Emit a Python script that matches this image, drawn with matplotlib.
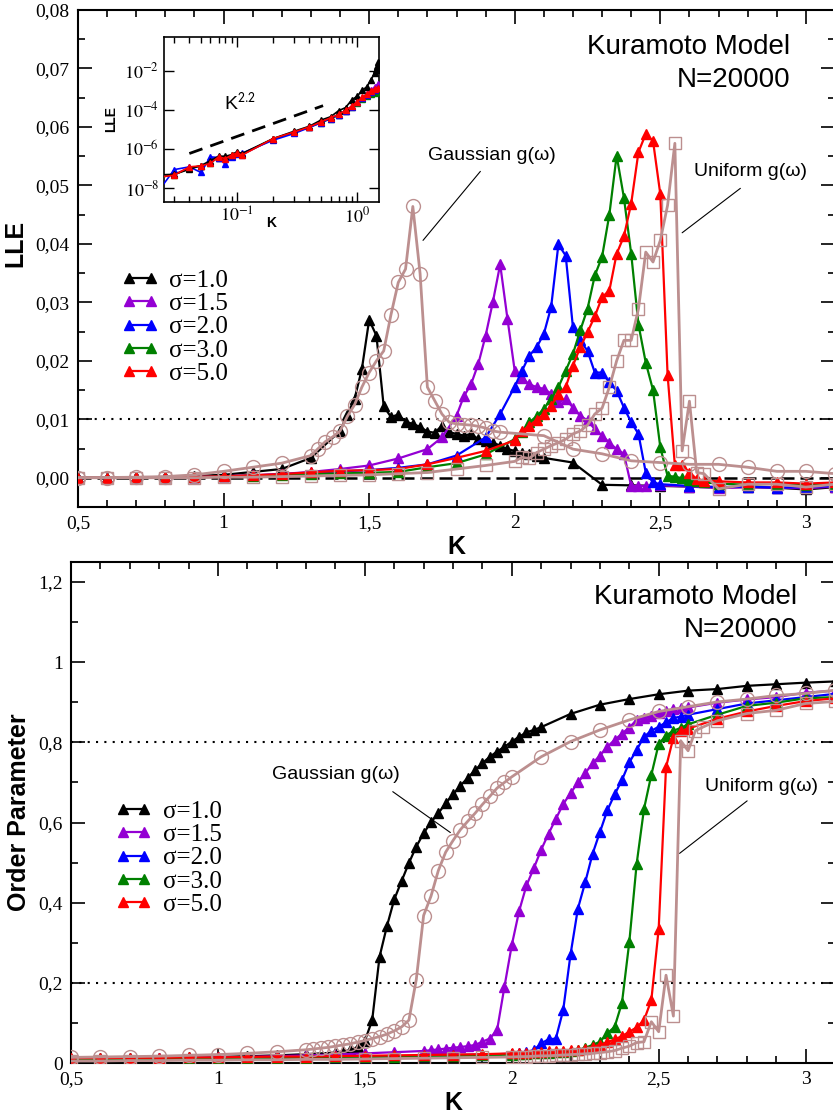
import numpy as np
import matplotlib
matplotlib.use('Agg')
import matplotlib.pyplot as plt
from matplotlib.ticker import MultipleLocator, FuncFormatter, FixedLocator, NullLocator, NullFormatter

plt.rcParams['font.family'] = 'serif'
plt.rcParams['font.serif'] = ['Liberation Serif', 'DejaVu Serif']
plt.rcParams['mathtext.fontset'] = 'stix'

SANS = ['Liberation Sans', 'DejaVu Sans']


def kgrid(*parts):
    out = []
    for a, b, step in parts:
        n = int(round((b - a) / step)) + 1
        out.append(np.linspace(a, b, n))
    return np.round(np.concatenate(out), 3)


labels = [r'σ=1.0', r'σ=1.5', r'σ=2.0', r'σ=3.0', r'σ=5.0']
colors = ['black', '#9400d3', '#0000ff', '#008000', '#ff0000']
pink = '#bc8f8f'

# ---------------- largest Lyapunov exponent ----------------
k_lle_s10 = kgrid((0.5, 1.4, 0.1), (1.425, 2.1, 0.025), (2.2, 3.1, 0.1))
lle_s10 = [3e-5, 4.4e-5, 9e-5, 1.3e-4, 3.2e-4, 5e-4, 1.0e-3, 1.5e-3, 3.4e-3, 0.0080,
           0.0108, 0.0135, 0.0186, 0.0270, 0.0243, 0.0122, 0.0104, 0.0108, 0.0096, 0.0092,
           0.0087, 0.0079, 0.0077, 0.0089, 0.0078, 0.0075, 0.0072, 0.0075, 0.0066, 0.0063,
           0.0060, 0.0055, 0.0049, 0.0046, 0.0043, 0.0041, 0.0038, 0.0034,
           0.0026, -0.0012, -0.0013, -0.0014, -0.0015, -0.0016, -0.0016, -0.0017, -0.0020, -0.0016]

k_lle_s15 = kgrid((0.5, 1.6, 0.1), (1.7, 1.8, 0.05), (1.825, 2.45, 0.025), (2.5, 3.1, 0.1))
lle_s15 = [2.3e-5, 3.8e-5, 5.6e-5, 9.2e-5, 1.5e-4, 2.5e-4, 4.2e-4, 6.5e-4, 1.0e-3, 1.5e-3, 2.1e-3, 3.3e-3,
           0.0049, 0.0069, 0.0106,
           0.0139, 0.0160, 0.0195, 0.0243, 0.0301, 0.0365, 0.0272, 0.0183, 0.0170, 0.0160,
           0.0155, 0.0152, 0.0144, 0.0129, 0.0135, 0.0120, 0.0106, 0.0098, 0.0083, 0.0072,
           0.0060, 0.0049, 0.0041, -0.0014, -0.0014, -0.0014,
           -0.0013, -0.0015, -0.0018, -0.0016, -0.0017, -0.0018, -0.0015]

k_lle_s20 = kgrid((0.5, 1.9, 0.1), (1.95, 2.0, 0.05), (2.025, 2.475, 0.025), (2.5, 3.1, 0.1))
lle_s20 = [2.2e-5, 3.6e-5, 5.5e-5, 9e-5, 1.45e-4, 2.4e-4, 4e-4, 5.8e-4, 8.5e-4, 1.1e-3,
           1.3e-3, 1.7e-3, 2.3e-3, 3.8e-3, 6.9e-3,
           0.0109, 0.0156,
           0.0183, 0.0209, 0.0223, 0.0246, 0.0292, 0.0399, 0.0380, 0.0257, 0.0235, 0.0217,
           0.0180, 0.0180, 0.0163, 0.0149, 0.0120, 0.0095, 0.0075, 0.0009, -0.0008,
           -0.0011, -0.0014, -0.0016, -0.0015, -0.0017, -0.0016, -0.0014]

k_lle_s30 = kgrid((0.5, 2.0, 0.1), (2.025, 2.65, 0.025), (2.7, 3.1, 0.1))
lle_s30 = [2.2e-5, 3.5e-5, 5.2e-5, 8.5e-5, 1.4e-4, 2.3e-4, 3.6e-4, 5e-4, 6.5e-4, 7.5e-4,
           8.5e-4, 1.0e-3, 1.8e-3, 2.5e-3, 4.0e-3, 6.6e-3,
           0.0078, 0.0095, 0.0105, 0.0118, 0.0135, 0.0155, 0.0183, 0.0212, 0.0252, 0.0289,
           0.0346, 0.0378, 0.0450, 0.0551, 0.0479, 0.0383, 0.0262, 0.0197, 0.0150, 0.0052,
           0.0003, 0.0002, -0.0001, -0.0004, -0.0006, -0.0008,
           -0.0010, -0.0012, -0.0010, -0.0012, -0.0010]

k_lle_s50 = k_lle_s30
lle_s50 = [2.4e-5, 3.9e-5, 5.8e-5, 9.5e-5, 1.55e-4, 2.6e-4, 4.3e-4, 6.3e-4, 9.3e-4, 1.2e-3,
           1.3e-3, 1.5e-3, 2.3e-3, 3.4e-3, 4.6e-3, 6.4e-3,
           0.0080, 0.0089, 0.0099, 0.0109, 0.0123, 0.0143, 0.0155, 0.0192, 0.0223, 0.0249,
           0.0276, 0.0309, 0.0320, 0.0383, 0.0413, 0.0469, 0.0557, 0.0588, 0.0576, 0.0485,
           0.0176, 0.0021, 0.0021, 0.0009, -0.0002, -0.0005,
           -0.0006, -0.0008, -0.0008, -0.0010, -0.0008]

k_lle_gauss = kgrid((0.5, 1.3, 0.1), (1.325, 1.95, 0.025), (2.1, 3.1, 0.1))
lle_gauss = [2e-5, 4e-5, 1e-4, 2e-4, 5e-4, 1.1e-3, 1.8e-3, 2.5e-3, 3.8e-3,
             0.0050, 0.0062, 0.0070, 0.0080, 0.0105, 0.0125, 0.0155, 0.0180, 0.0200, 0.0217,
             0.0279, 0.0334, 0.0357, 0.0464, 0.0349, 0.0155, 0.0132, 0.0109, 0.0095, 0.0092,
             0.0091, 0.0090, 0.0088, 0.0085, 0.0080, 0.0078,
             0.0072, 0.0049, 0.0041, 0.0029, 0.0026, 0.0023, 0.0023, 0.0018, 0.0011, 0.0011, 0.0007]

k_lle_unif = kgrid((0.5, 1.9, 0.1), (2.0, 2.65, 0.025), (2.7, 3.1, 0.1))
lle_unif = [0.0, 0.0, 0.0, 0.0, 0.0, 0.0001, 0.0001, 0.0002, 0.0003, 0.0004,
            0.0005, 0.0007, 0.0009, 0.0015, 0.0021,
            0.0028, 0.0035, 0.0033, 0.0043, 0.0049, 0.0055, 0.0060, 0.0066, 0.0075, 0.0080,
            0.0090, 0.0109, 0.0119, 0.0155, 0.0200, 0.0235, 0.0235, 0.0289, 0.0386, 0.0369,
            0.0406, 0.0466, 0.0572, 0.0046, 0.0131, 0.0009, 0.0007,
            -0.0019, -0.0011, -0.0011, -0.0016, -0.0011]

# small-K part of the exponent, shown on log axes
k_small = [0.02, 0.03, 0.04, 0.05, 0.06, 0.07, 0.08, 0.09, 0.1, 0.11, 0.2, 0.3, 0.4]
small_s10 = [4.5e-8, 5.0e-8, 9e-8, 1.4e-7, 2.5e-7, 4.2e-7, 4.2e-7, 5.1e-7, 7.1e-7, 5.8e-7, 3.4e-6, 8.1e-6, 1.45e-5]
small_s15 = [3.5e-8, 5e-8, 1.1e-7, 1.3e-7, 2.2e-7, 3.5e-7, 3.5e-7, 4.5e-7, 6e-7, 5e-7, 3.2e-6, 7e-6, 1.3e-5]
small_s20 = [3e-9, 8.7e-8, 1.2e-7, 6.2e-8, 3.9e-7, 3.6e-7, 1.6e-7, 3.9e-7, 5.8e-7, 6e-7, 2.8e-6, 6.2e-6, 1.25e-5]
small_s30 = [3e-8, 4.8e-8, 1.0e-7, 1.4e-7, 2e-7, 3.6e-7, 3.4e-7, 4.6e-7, 6.1e-7, 5.2e-7, 3.3e-6, 7.2e-6, 1.3e-5]
small_s50 = [3.2e-8, 4.5e-8, 1.2e-7, 1.35e-7, 1.8e-7, 3.9e-7, 3.2e-7, 4.8e-7, 6.2e-7, 4.8e-7, 3.4e-6, 7.4e-6, 1.35e-5]
guide_k = [0.04, 0.52]
guide_slope = 2.2
guide_amp = 6.9e-4

# ---------------- order parameter ----------------
k_r_s10 = k_lle_s10
r_s10 = [0.011, 0.012, 0.012, 0.013, 0.014, 0.015, 0.017, 0.019, 0.022, 0.026,
         0.028, 0.032, 0.040, 0.055, 0.107, 0.265, 0.341, 0.408, 0.454, 0.499,
         0.540, 0.573, 0.601, 0.623, 0.648, 0.670, 0.692, 0.711, 0.731, 0.748,
         0.764, 0.777, 0.789, 0.802, 0.814, 0.825, 0.831, 0.838,
         0.871, 0.894, 0.908, 0.920, 0.929, 0.933, 0.941, 0.945, 0.949, 0.952]

k_r_s15 = kgrid((0.5, 1.6, 0.1), (1.7, 2.6, 0.025), (2.7, 3.1, 0.1))
r_s15 = [0.010, 0.011, 0.011, 0.012, 0.013, 0.014, 0.015, 0.017, 0.019, 0.021, 0.024, 0.027,
         0.030, 0.032, 0.034, 0.036, 0.038, 0.040, 0.042, 0.045, 0.053, 0.061,
         0.082, 0.190, 0.294, 0.379, 0.443, 0.486, 0.532, 0.572, 0.609, 0.646,
         0.673, 0.700, 0.723, 0.748, 0.767, 0.789, 0.806, 0.822, 0.837, 0.856,
         0.861, 0.866, 0.873, 0.877, 0.883, 0.885, 0.887,
         0.899, 0.907, 0.913, 0.924, 0.929]

k_r_s20 = kgrid((0.5, 2.0, 0.1), (2.025, 2.6, 0.025), (2.7, 3.1, 0.1))
r_s20 = [0.009, 0.009, 0.010, 0.010, 0.011, 0.011, 0.012, 0.013, 0.014, 0.015,
         0.016, 0.017, 0.018, 0.020, 0.021, 0.023,
         0.025, 0.028, 0.032, 0.049, 0.059, 0.061, 0.132, 0.271, 0.385, 0.451,
         0.522, 0.576, 0.630, 0.670, 0.706, 0.750, 0.781, 0.814, 0.829, 0.839,
         0.850, 0.861, 0.864, 0.869,
         0.883, 0.897, 0.905, 0.913, 0.921]

k_r_s30 = k_r_s20
r_s30 = [0.009, 0.009, 0.010, 0.010, 0.011, 0.011, 0.012, 0.012, 0.013, 0.014,
         0.015, 0.016, 0.017, 0.018, 0.019, 0.021,
         0.022, 0.023, 0.024, 0.025, 0.026, 0.027, 0.028, 0.030, 0.032, 0.038,
         0.045, 0.053, 0.074, 0.090, 0.150, 0.302, 0.497, 0.634, 0.719, 0.796,
         0.817, 0.829, 0.836, 0.845,
         0.869, 0.891, 0.899, 0.910, 0.913]

k_r_s50 = k_r_s20
r_s50 = [0.012, 0.012, 0.013, 0.013, 0.014, 0.014, 0.015, 0.016, 0.016, 0.017,
         0.018, 0.019, 0.020, 0.021, 0.022, 0.024,
         0.025, 0.026, 0.027, 0.028, 0.029, 0.030, 0.031, 0.032, 0.033, 0.036,
         0.040, 0.045, 0.052, 0.059, 0.067, 0.078, 0.089, 0.107, 0.157, 0.335,
         0.738, 0.812, 0.829, 0.834,
         0.859, 0.877, 0.891, 0.903, 0.910]

k_r_gauss = kgrid((0.5, 1.3, 0.1), (1.325, 2.0, 0.025), (2.1, 3.1, 0.1))
r_gauss = [0.014, 0.015, 0.016, 0.017, 0.019, 0.021, 0.024, 0.028, 0.033,
           0.035, 0.037, 0.039, 0.042, 0.045, 0.048, 0.052, 0.056, 0.061, 0.066,
           0.072, 0.080, 0.090, 0.107, 0.208, 0.368, 0.416, 0.480, 0.526, 0.555,
           0.582, 0.603, 0.623, 0.645, 0.665, 0.686, 0.700, 0.714,
           0.764, 0.802, 0.831, 0.856, 0.877, 0.889, 0.901, 0.908, 0.917, 0.922, 0.930]

k_r_unif = k_lle_unif
r_unif = [0.005, 0.005, 0.006, 0.006, 0.007, 0.007, 0.008, 0.008, 0.009, 0.009,
          0.010, 0.011, 0.012, 0.013, 0.014,
          0.015, 0.016, 0.016, 0.017, 0.018, 0.018, 0.019, 0.020, 0.021, 0.022,
          0.023, 0.024, 0.026, 0.028, 0.031, 0.037, 0.042, 0.051, 0.053, 0.103,
          0.078, 0.219, 0.117, 0.804, 0.779, 0.829, 0.838,
          0.854, 0.872, 0.880, 0.897, 0.902]

lle_k = [k_lle_s10, k_lle_s15, k_lle_s20, k_lle_s30, k_lle_s50]
lle_v = [lle_s10, lle_s15, lle_s20, lle_s30, lle_s50]
small_v = [small_s10, small_s15, small_s20, small_s30, small_s50]
r_k = [k_r_s10, k_r_s15, k_r_s20, k_r_s30, k_r_s50]
r_v = [r_s10, r_s15, r_s20, r_s30, r_s50]


def comma(fmt):
    return FuncFormatter(lambda v, p: (fmt % v).replace('.', ','))


def style_axes(ax, ymaj, ymin, yfmt):
    ax.set_xlim(0.5, 3.1)
    ax.xaxis.set_major_locator(MultipleLocator(0.5))
    ax.xaxis.set_minor_locator(MultipleLocator(0.1))
    ax.yaxis.set_major_locator(MultipleLocator(ymaj))
    ax.yaxis.set_minor_locator(MultipleLocator(ymin))
    ax.xaxis.set_major_formatter(comma('%g'))
    ax.yaxis.set_major_formatter(comma(yfmt))
    ax.tick_params(which='both', direction='in', top=True, right=True, width=1.2,
                   labelsize=14, pad=6)
    ax.tick_params(which='major', length=10)
    ax.tick_params(which='minor', length=5)
    for s in ax.spines.values():
        s.set_linewidth(1.5)
    ax.set_xlabel('K', fontsize=18, fontweight='bold', family=SANS, labelpad=2)


def draw_series(ax, ks, vs, k_g, v_g, k_u, v_u):
    handles = []
    for k, v, c in zip(ks, vs, colors):
        h, = ax.plot(k, v, '-^', color=c, lw=1.6, ms=6.5, mec=c, zorder=3)
        handles.append(h)
    ax.plot(k_g, v_g, '-o', color=pink, lw=2, ms=10, mfc='none', mec=pink, mew=1, zorder=4)
    ax.plot(k_u, v_u, '-s', color=pink, lw=2, ms=8.5, mfc='none', mec=pink, mew=1, zorder=4)
    return handles


def add_legend(ax, handles, anchor):
    ax.legend(handles, labels, loc='upper left', bbox_to_anchor=anchor, frameon=False,
              numpoints=2, prop={'family': 'serif', 'size': 18}, handlelength=1.45,
              handletextpad=0.45, labelspacing=0.03, borderpad=0, borderaxespad=0)


fig = plt.figure(figsize=(8.33, 11.2), dpi=100)

# ---- top panel: LLE ----
ax1 = fig.add_axes([78 / 833, 1 - 507 / 1120, 757 / 833, 497 / 1120])
style_axes(ax1, 0.01, 0.005, '%.2f')
ax1.set_ylim(-0.005, 0.08)
ax1.axhline(0.0, color='black', lw=1.8, ls=(0, (5.2, 2.4)), zorder=2)
ax1.axhline(0.01, color='black', lw=1.5, ls=(0, (1, 3)), zorder=2)
h1 = draw_series(ax1, lle_k, lle_v, k_lle_gauss, lle_gauss, k_lle_unif, lle_unif)
ax1.set_ylabel('LLE', fontsize=18, fontweight='bold', family=SANS)
ax1.yaxis.set_label_coords(-0.067, 0.53)
add_legend(ax1, h1, (0.058, 0.478))
ax1.text(0.941, 0.9256, 'Kuramoto Model', transform=ax1.transAxes, ha='right', va='center',
         fontsize=20, family=SANS)
ax1.text(0.941, 0.859, 'N=20000', transform=ax1.transAxes, ha='right', va='center',
         fontsize=20, family=SANS)
ax1.text(1.922, 0.0552, 'Gaussian g(ω)', ha='center', va='center', fontsize=14, family=SANS)
ax1.annotate('', xy=(1.685, 0.0406), xytext=(1.882, 0.0524),
             arrowprops=dict(arrowstyle='-', lw=0.8, color='black', shrinkA=0, shrinkB=0))
ax1.text(2.809, 0.0524, 'Uniform g(ω)', ha='center', va='center', fontsize=14, family=SANS)
ax1.annotate('', xy=(2.575, 0.0419), xytext=(2.775, 0.0495),
             arrowprops=dict(arrowstyle='-', lw=0.8, color='black', shrinkA=0, shrinkB=0))

# ---- inset: LLE on log axes ----
axi = fig.add_axes([164 / 833, 1 - 202 / 1120, 215 / 833, 165 / 1120])
axi.set_xscale('log')
axi.set_yscale('log')
order = [1, 3, 2, 0, 4]
for i in order:
    k = np.asarray(lle_k[i])
    v = np.asarray(lle_v[i])
    keep = (k <= 1.55) & (v > 0)
    kk = np.concatenate([k_small, k[keep]])
    vv = np.concatenate([small_v[i], v[keep]])
    axi.plot(kk, vv, '-^', color=colors[i], lw=1.2, ms=5, mec=colors[i], zorder=3)
gk = np.array(guide_k)
axi.plot(gk, guide_amp * gk ** guide_slope, color='black', lw=2, ls=(0, (5, 3)), zorder=2)
axi.text(0.353, 0.6, r'K$^{\mathsf{2.2}}$', transform=axi.transAxes, ha='center', va='center',
         fontsize=14, family=SANS)
axi.set_xlim(0.0246, 1.52)
axi.set_ylim(1.9e-9, 0.54)
axi.yaxis.set_major_locator(FixedLocator([1e-8, 1e-6, 1e-4, 1e-2]))
axi.yaxis.set_minor_locator(NullLocator())
axi.xaxis.set_major_locator(FixedLocator([0.1, 1.0]))
axi.xaxis.set_minor_locator(FixedLocator([0.03, 0.04, 0.05, 0.06, 0.07, 0.08, 0.09,
                                          0.2, 0.3, 0.4, 0.5, 0.6, 0.7, 0.8, 0.9]))
axi.xaxis.set_minor_formatter(NullFormatter())
logfmt = FuncFormatter(lambda v, p: r'$10^{%d}$' % int(round(np.log10(v))))
axi.xaxis.set_major_formatter(logfmt)
axi.yaxis.set_major_formatter(logfmt)
axi.tick_params(which='both', direction='in', top=True, right=True, width=1.0, labelsize=13)
axi.tick_params(which='major', length=7)
axi.tick_params(which='minor', length=4)
for s in axi.spines.values():
    s.set_linewidth(1.2)
axi.set_xlabel('K', fontsize=10, fontweight='bold', family=SANS)
axi.xaxis.set_label_coords(0.5, -0.085)
axi.set_ylabel('LLE', fontsize=10, fontweight='bold', family=SANS)
axi.yaxis.set_label_coords(-0.214, 0.506)

# ---- bottom panel: order parameter ----
ax2 = fig.add_axes([71 / 833, 1 - 1063 / 1120, 764 / 833, 501 / 1120])
style_axes(ax2, 0.2, 0.1, '%g')
ax2.set_ylim(0, 1.25)
ax2.axhline(0.2, color='black', lw=1.5, ls=(0, (1, 3)), zorder=2)
ax2.axhline(0.8, color='black', lw=1.5, ls=(0, (1, 3)), zorder=2)
h2 = draw_series(ax2, r_k, r_v, k_r_gauss, r_gauss, k_r_unif, r_unif)
ax2.set_ylabel('Order Parameter', fontsize=18, fontweight='bold', family=SANS)
ax2.yaxis.set_label_coords(-0.052, 0.5)
add_legend(ax2, h2, (0.058, 0.524))
ax2.text(0.951, 0.930, 'Kuramoto Model', transform=ax2.transAxes, ha='right', va='center',
         fontsize=20, family=SANS)
ax2.text(0.951, 0.864, 'N=20000', transform=ax2.transAxes, ha='right', va='center',
         fontsize=20, family=SANS)
ax2.text(1.402, 0.7186, 'Gaussian g(ω)', ha='center', va='center', fontsize=14, family=SANS)
ax2.annotate('', xy=(1.791, 0.575), xytext=(1.595, 0.677),
             arrowprops=dict(arrowstyle='-', lw=0.8, color='black', shrinkA=0, shrinkB=0))
ax2.text(2.850, 0.689, 'Uniform g(ω)', ha='center', va='center', fontsize=14, family=SANS)
ax2.annotate('', xy=(2.571, 0.523), xytext=(2.801, 0.654),
             arrowprops=dict(arrowstyle='-', lw=0.8, color='black', shrinkA=0, shrinkB=0))

fig.savefig('out.png', dpi=100)
